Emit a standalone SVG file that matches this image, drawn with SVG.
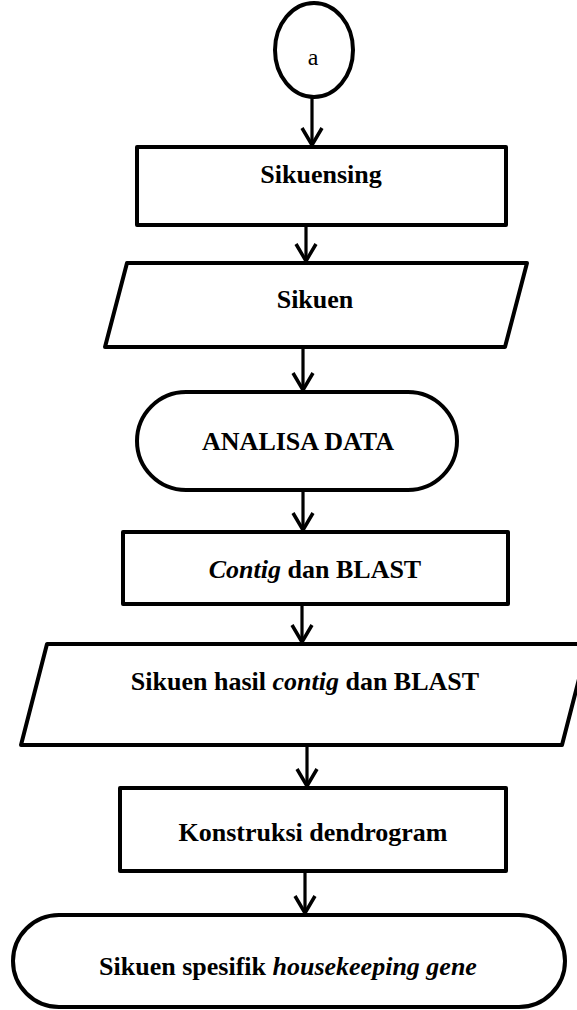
<svg xmlns="http://www.w3.org/2000/svg" width="577" height="1010" viewBox="0 0 577 1010">
  <style>
    .shape { fill: #fff; stroke: #000; stroke-width: 4; stroke-linejoin: round; }
    .label { font-family: "Liberation Serif", "Times New Roman", serif; font-size: 26px; font-weight: bold; fill: #000; text-anchor: middle; }
    .it { font-style: italic; }
    .conn { fill: none; stroke: #000; stroke-width: 3.2; marker-end: url(#arrow); }
  </style>
  <defs>
    <marker id="arrow" markerUnits="userSpaceOnUse" markerWidth="30" markerHeight="30" viewBox="-20 -15 30 30" refX="0" refY="0" orient="auto" overflow="visible">
      <path d="M-17,-10 L0,0 L-17,10" fill="none" stroke="#000" stroke-width="3.5" stroke-linejoin="miter"/>
    </marker>
  </defs>
  <rect width="577" height="1010" fill="#fff"/>

  <!-- connectors -->
  <g id="connectors">
    <line class="conn" x1="312" y1="97" x2="312" y2="145"/>
    <line class="conn" x1="306" y1="225" x2="306" y2="261"/>
    <line class="conn" x1="303" y1="347" x2="303" y2="390"/>
    <line class="conn" x1="303" y1="490" x2="303" y2="530"/>
    <line class="conn" x1="302" y1="604" x2="302" y2="642"/>
    <line class="conn" x1="307" y1="745" x2="307" y2="786"/>
    <line class="conn" x1="305" y1="871" x2="305" y2="913"/>
  </g>

  <!-- connector "a" -->
  <g id="node-a">
    <ellipse class="shape" cx="314" cy="50" rx="39" ry="47"/>
    <text x="313" y="65" class="label" style="font-weight:normal;font-size:24px">a</text>
  </g>

  <g id="node-sikuensing">
    <rect class="shape" x="137" y="147" width="369" height="78"/>
    <text x="321" y="183" class="label">Sikuensing</text>
  </g>

  <g id="node-sikuen">
    <polygon class="shape" points="127,263 527,263 505,347 105,347"/>
    <text x="315" y="308" class="label">Sikuen</text>
  </g>

  <g id="node-analisa">
    <rect class="shape" x="137" y="392" width="320" height="98" rx="49" ry="49"/>
    <text x="298" y="450" class="label">ANALISA DATA</text>
  </g>

  <g id="node-contig">
    <rect class="shape" x="123" y="532" width="385" height="72"/>
    <text x="315" y="578" class="label"><tspan class="it">Contig</tspan> dan BLAST</text>
  </g>

  <g id="node-hasil">
    <polygon class="shape" points="47,644 588,644 562,745 21,745"/>
    <text x="305" y="690" class="label">Sikuen hasil <tspan class="it">contig</tspan> dan BLAST</text>
  </g>

  <g id="node-dendrogram">
    <rect class="shape" x="120" y="788" width="386" height="83"/>
    <text x="313" y="841" class="label">Konstruksi dendrogram</text>
  </g>

  <g id="node-hasil-akhir">
    <rect class="shape" x="13" y="915" width="552" height="92" rx="46" ry="46"/>
    <text x="288" y="975" class="label">Sikuen spesifik <tspan class="it">housekeeping gene</tspan></text>
  </g>
</svg>
